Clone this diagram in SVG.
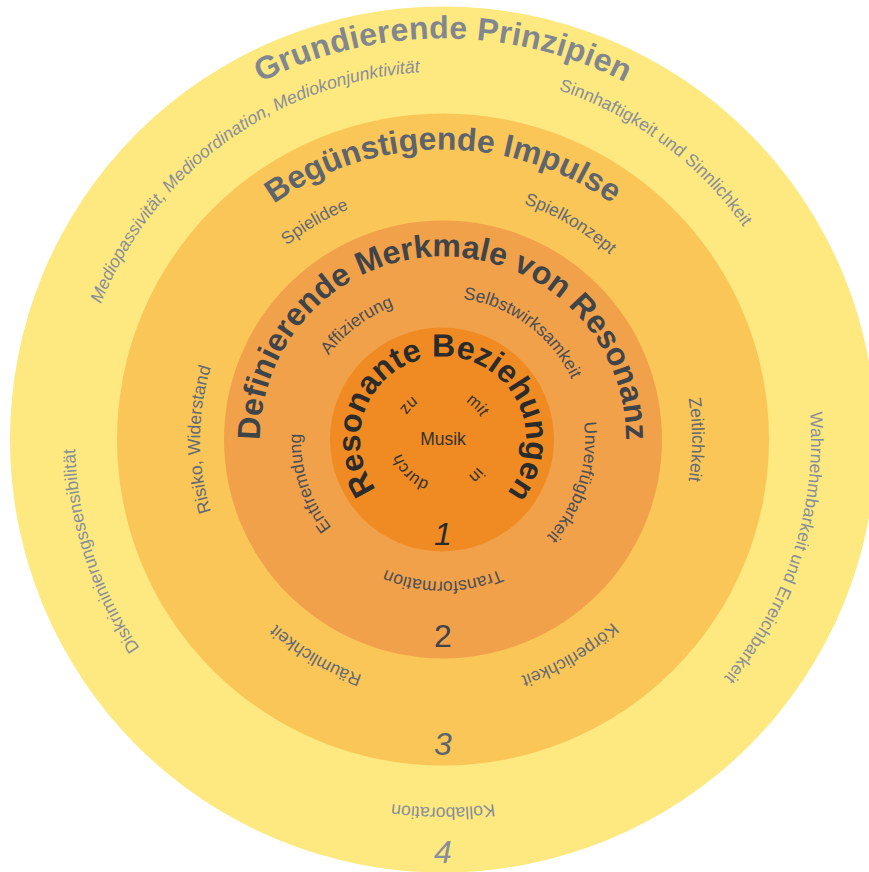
<svg xmlns="http://www.w3.org/2000/svg" xmlns:xlink="http://www.w3.org/1999/xlink" width="869" height="872" viewBox="0 0 869 872">
<style>
  text { font-family: "Liberation Sans", Arial, sans-serif; text-anchor: middle; }
  .t1 { font-size: 32px; font-weight: bold; fill: #82868f; letter-spacing: 0.3px; }
  .t2 { font-size: 32px; font-weight: bold; fill: #5e646d; }
  .t3 { font-size: 32px; font-weight: bold; fill: #3f4449; }
  .t4 { font-size: 32px; font-weight: bold; fill: #2b2b2b; }
  .s4 { font-size: 17.6px; fill: #8a8e99; }
  .s3 { font-size: 17.6px; fill: #636a75; }
  .s2 { font-size: 17.6px; fill: #4a4f56; }
  .s1 { font-size: 16.5px; fill: #333333; }
  .num { font-size: 32px; }
</style>
<defs>
  <path id="p401" d="M443 840.5A401 401 0 1 1 443 38.5A401 401 0 1 1 443 840.5Z"/>
  <path id="p368" d="M443 807.5A368 368 0 1 1 443 71.5A368 368 0 1 1 443 807.5Z"/>
  <path id="p290" d="M443 729.5A290 290 0 1 1 443 149.5A290 290 0 1 1 443 729.5Z"/>
  <path id="p249" d="M443 688.5A249 249 0 1 1 443 190.5A249 249 0 1 1 443 688.5Z"/>
  <path id="p243" d="M443 682.5A243 243 0 1 1 443 196.5A243 243 0 1 1 443 682.5Z"/>
  <path id="p183" d="M443 622.5A183 183 0 1 1 443 256.5A183 183 0 1 1 443 622.5Z"/>
  <path id="p142" d="M443 581.5A142 142 0 1 1 443 297.5A142 142 0 1 1 443 581.5Z"/>
  <path id="p83" d="M443 522.5A83 83 0 1 1 443 356.5A83 83 0 1 1 443 522.5Z"/>
  <path id="p44" d="M443 483.5A44 44 0 1 1 443 395.5A44 44 0 1 1 443 483.5Z"/>
</defs>

<g id="ring4">
  <circle cx="443" cy="439.5" r="433" fill="#fde97f"/>
  <text class="t1"><textPath href="#p401" startOffset="50%">Grundierende Prinzipien</textPath></text>
  <text class="s4" font-style="italic" transform="rotate(-36 443 439.5)"><textPath href="#p368" startOffset="50%">Mediopassivität, Medioordination, Mediokonjunktivität</textPath></text>
  <text class="s4" transform="rotate(36.5 443 439.5)"><textPath href="#p368" startOffset="50%">Sinnhaftigkeit und Sinnlichkeit</textPath></text>
  <text class="s4" transform="rotate(108 443 439.5)"><textPath href="#p368" startOffset="50%">Wahrnehmbarkeit und Erreichbarkeit</textPath></text>
  <text class="s4" transform="rotate(-108 443 439.5)"><textPath href="#p368" startOffset="50%">Diskriminierungssensibilität</textPath></text>
  <text class="s4" transform="rotate(180 443 439.5)"><textPath href="#p368" startOffset="50%">Kollaboration</textPath></text>
  <text class="num" x="443" y="863" fill="#8a8e99" font-style="italic">4</text>
</g>

<g id="ring3">
  <circle cx="443" cy="439.5" r="326" fill="#fbc658"/>
  <text class="t2"><textPath href="#p290" startOffset="50%">Begünstigende Impulse</textPath></text>
  <text class="s3" transform="rotate(-30.5 443 439.5)"><textPath href="#p249" startOffset="50%">Spielidee</textPath></text>
  <text class="s3" transform="rotate(30.5 443 439.5)"><textPath href="#p249" startOffset="50%">Spielkonzept</textPath></text>
  <text class="s3" transform="rotate(90 443 439.5)"><textPath href="#p249" startOffset="50%">Zeitlichkeit</textPath></text>
  <text class="s3" transform="rotate(-90 443 439.5)"><textPath href="#p243" startOffset="50%">Risiko, Widerstand</textPath></text>
  <text class="s3" transform="rotate(-149.5 443 439.5)"><textPath href="#p249" startOffset="50%">Räumlichkeit</textPath></text>
  <text class="s3" transform="rotate(149.5 443 439.5)"><textPath href="#p249" startOffset="50%">Körperlichkeit</textPath></text>
  <text class="num" x="443" y="755" fill="#5e646d" font-style="italic">3</text>
</g>

<g id="ring2">
  <circle cx="443" cy="439.5" r="219" fill="#f2a14b"/>
  <text class="t3"><textPath href="#p183" startOffset="50%">Definierende Merkmale von Resonanz</textPath></text>
  <text class="s2" transform="rotate(-37 443 439.5)"><textPath href="#p142" startOffset="50%">Affizierung</textPath></text>
  <text class="s2" transform="rotate(36.5 443 439.5)"><textPath href="#p142" startOffset="50%">Selbstwirksamkeit</textPath></text>
  <text class="s2" transform="rotate(108 443 439.5)"><textPath href="#p142" startOffset="50%">Unverfügbarkeit</textPath></text>
  <text class="s2" transform="rotate(-108 443 439.5)"><textPath href="#p142" startOffset="50%">Entfremdung</textPath></text>
  <text class="s2" transform="rotate(180 443 439.5)"><textPath href="#p142" startOffset="50%">Transformation</textPath></text>
  <text class="num" x="443" y="647" fill="#3f444a">2</text>
</g>

<g id="ring1">
  <circle cx="442" cy="439.5" r="112" fill="#ef8b22"/>
  <text class="t4" transform="rotate(1.5 443 439.5)"><textPath href="#p83" startOffset="50%">Resonante Beziehungen</textPath></text>
  <text class="s1" transform="rotate(-45 443 439.5)"><textPath href="#p44" startOffset="50%">zu</textPath></text>
  <text class="s1" transform="rotate(45 443 439.5)"><textPath href="#p44" startOffset="50%">mit</textPath></text>
  <text class="s1" transform="rotate(137 443 439.5)"><textPath href="#p44" startOffset="50%">in</textPath></text>
  <text class="s1" transform="rotate(-135 443 439.5)"><textPath href="#p44" startOffset="50%">durch</textPath></text>
  <text x="443" y="445" font-size="17.5" fill="#333333">Musik</text>
  <text class="num" x="443" y="545" fill="#2b2b2b" font-style="italic">1</text>
</g>
</svg>
